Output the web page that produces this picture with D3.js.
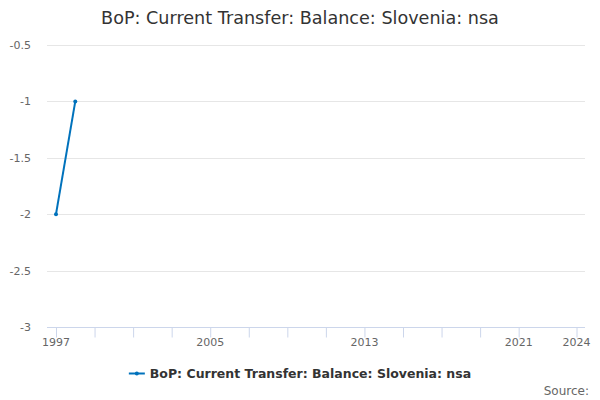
<!DOCTYPE html>
<html><head><meta charset="utf-8">
<script src="https://cdn.jsdelivr.net/npm/d3@7"></script>
<style>body{margin:0;background:#fff;font-family:"DejaVu Sans",sans-serif;}</style>
</head><body><svg id="c" width="600" height="400"></svg>
<script>
const years = [1997, 1998];
const values = [-2, -1];
const yTicks = [-3, -2.5, -2, -1.5, -1, -0.5];
const xTickYears = [1997,1999,2001,2003,2005,2007,2009,2011,2013,2015,2017,2019,2021,2024];
const xLabelYears = [1997, 2005, 2013, 2021, 2024];
const title = "BoP: Current Transfer: Balance: Slovenia: nsa";
const seriesName = "BoP: Current Transfer: Balance: Slovenia: nsa";

const svg = d3.select("#c");
const pLeft = 47, pRight = 585, pTop = 45, pBottom = 327;
const x = d3.scaleLinear().domain([1997, 2024]).range([56, 576.5]);
const y = d3.scaleLinear().domain([-3, -0.5]).range([pBottom, pTop]);
const color = "#0072bc";

svg.append("text").attr("x", 300).attr("y", 24).attr("text-anchor", "middle")
  .attr("font-size", 17.6).attr("fill", "#333").text(title);

// grid
svg.append("g").selectAll("line").data(yTicks.filter(d => d !== -3)).join("line")
  .attr("x1", pLeft).attr("x2", pRight).attr("y1", d => Math.round(y(d)) + 0.5).attr("y2", d => Math.round(y(d)) + 0.5)
  .attr("stroke", "#e6e6e6");

// y labels
svg.append("g").selectAll("text").data(yTicks).join("text")
  .attr("x", 31).attr("y", d => y(d) + 4).attr("text-anchor", "end")
  .attr("font-size", 11).attr("fill", "#666").text(d => d);

// x axis
const xAxis = d3.axisBottom(x).tickValues(xTickYears).tickSize(10).tickFormat(() => "");
const gx = svg.append("g").attr("transform", `translate(0,${pBottom + 0.5})`).call(xAxis);
gx.select(".domain").remove();
gx.selectAll(".tick line").attr("stroke", "#ccd6eb");
svg.append("line").attr("x1", pLeft).attr("x2", pRight).attr("y1", pBottom + 0.5).attr("y2", pBottom + 0.5).attr("stroke", "#ccd6eb");
svg.append("g").selectAll("text").data(xLabelYears).join("text")
  .attr("x", d => x(d)).attr("y", pBottom + 19).attr("text-anchor", "middle")
  .attr("font-size", 11).attr("fill", "#666").text(d => d);

// line
const pts = years.map((yr, i) => [yr, values[i]]);
svg.append("path").datum(pts).attr("fill", "none").attr("stroke", color).attr("stroke-width", 2)
  .attr("d", d3.line().x(d => x(d[0])).y(d => y(d[1])));
svg.append("g").selectAll("circle").data(pts).join("circle")
  .attr("cx", d => x(d[0])).attr("cy", d => y(d[1])).attr("r", 2).attr("fill", color);

// legend
const lg = svg.append("g");
const lt = lg.append("text").attr("y", 378).attr("font-size", 12.5).attr("font-weight", "bold")
  .attr("fill", "#333").text(seriesName);
const tw = lt.node().getComputedTextLength();
const total = 16 + 5 + tw;
const lx = 300 - total / 2;
lt.attr("x", lx + 21);
lg.append("line").attr("x1", lx).attr("x2", lx + 16).attr("y1", 373.5).attr("y2", 373.5).attr("stroke", color).attr("stroke-width", 2);
lg.append("circle").attr("cx", lx + 8).attr("cy", 373.5).attr("r", 2).attr("fill", color);

svg.append("text").attr("x", 589).attr("y", 395).attr("text-anchor", "end")
  .attr("font-size", 12).attr("fill", "#666").text("Source:");
</script></body></html>
